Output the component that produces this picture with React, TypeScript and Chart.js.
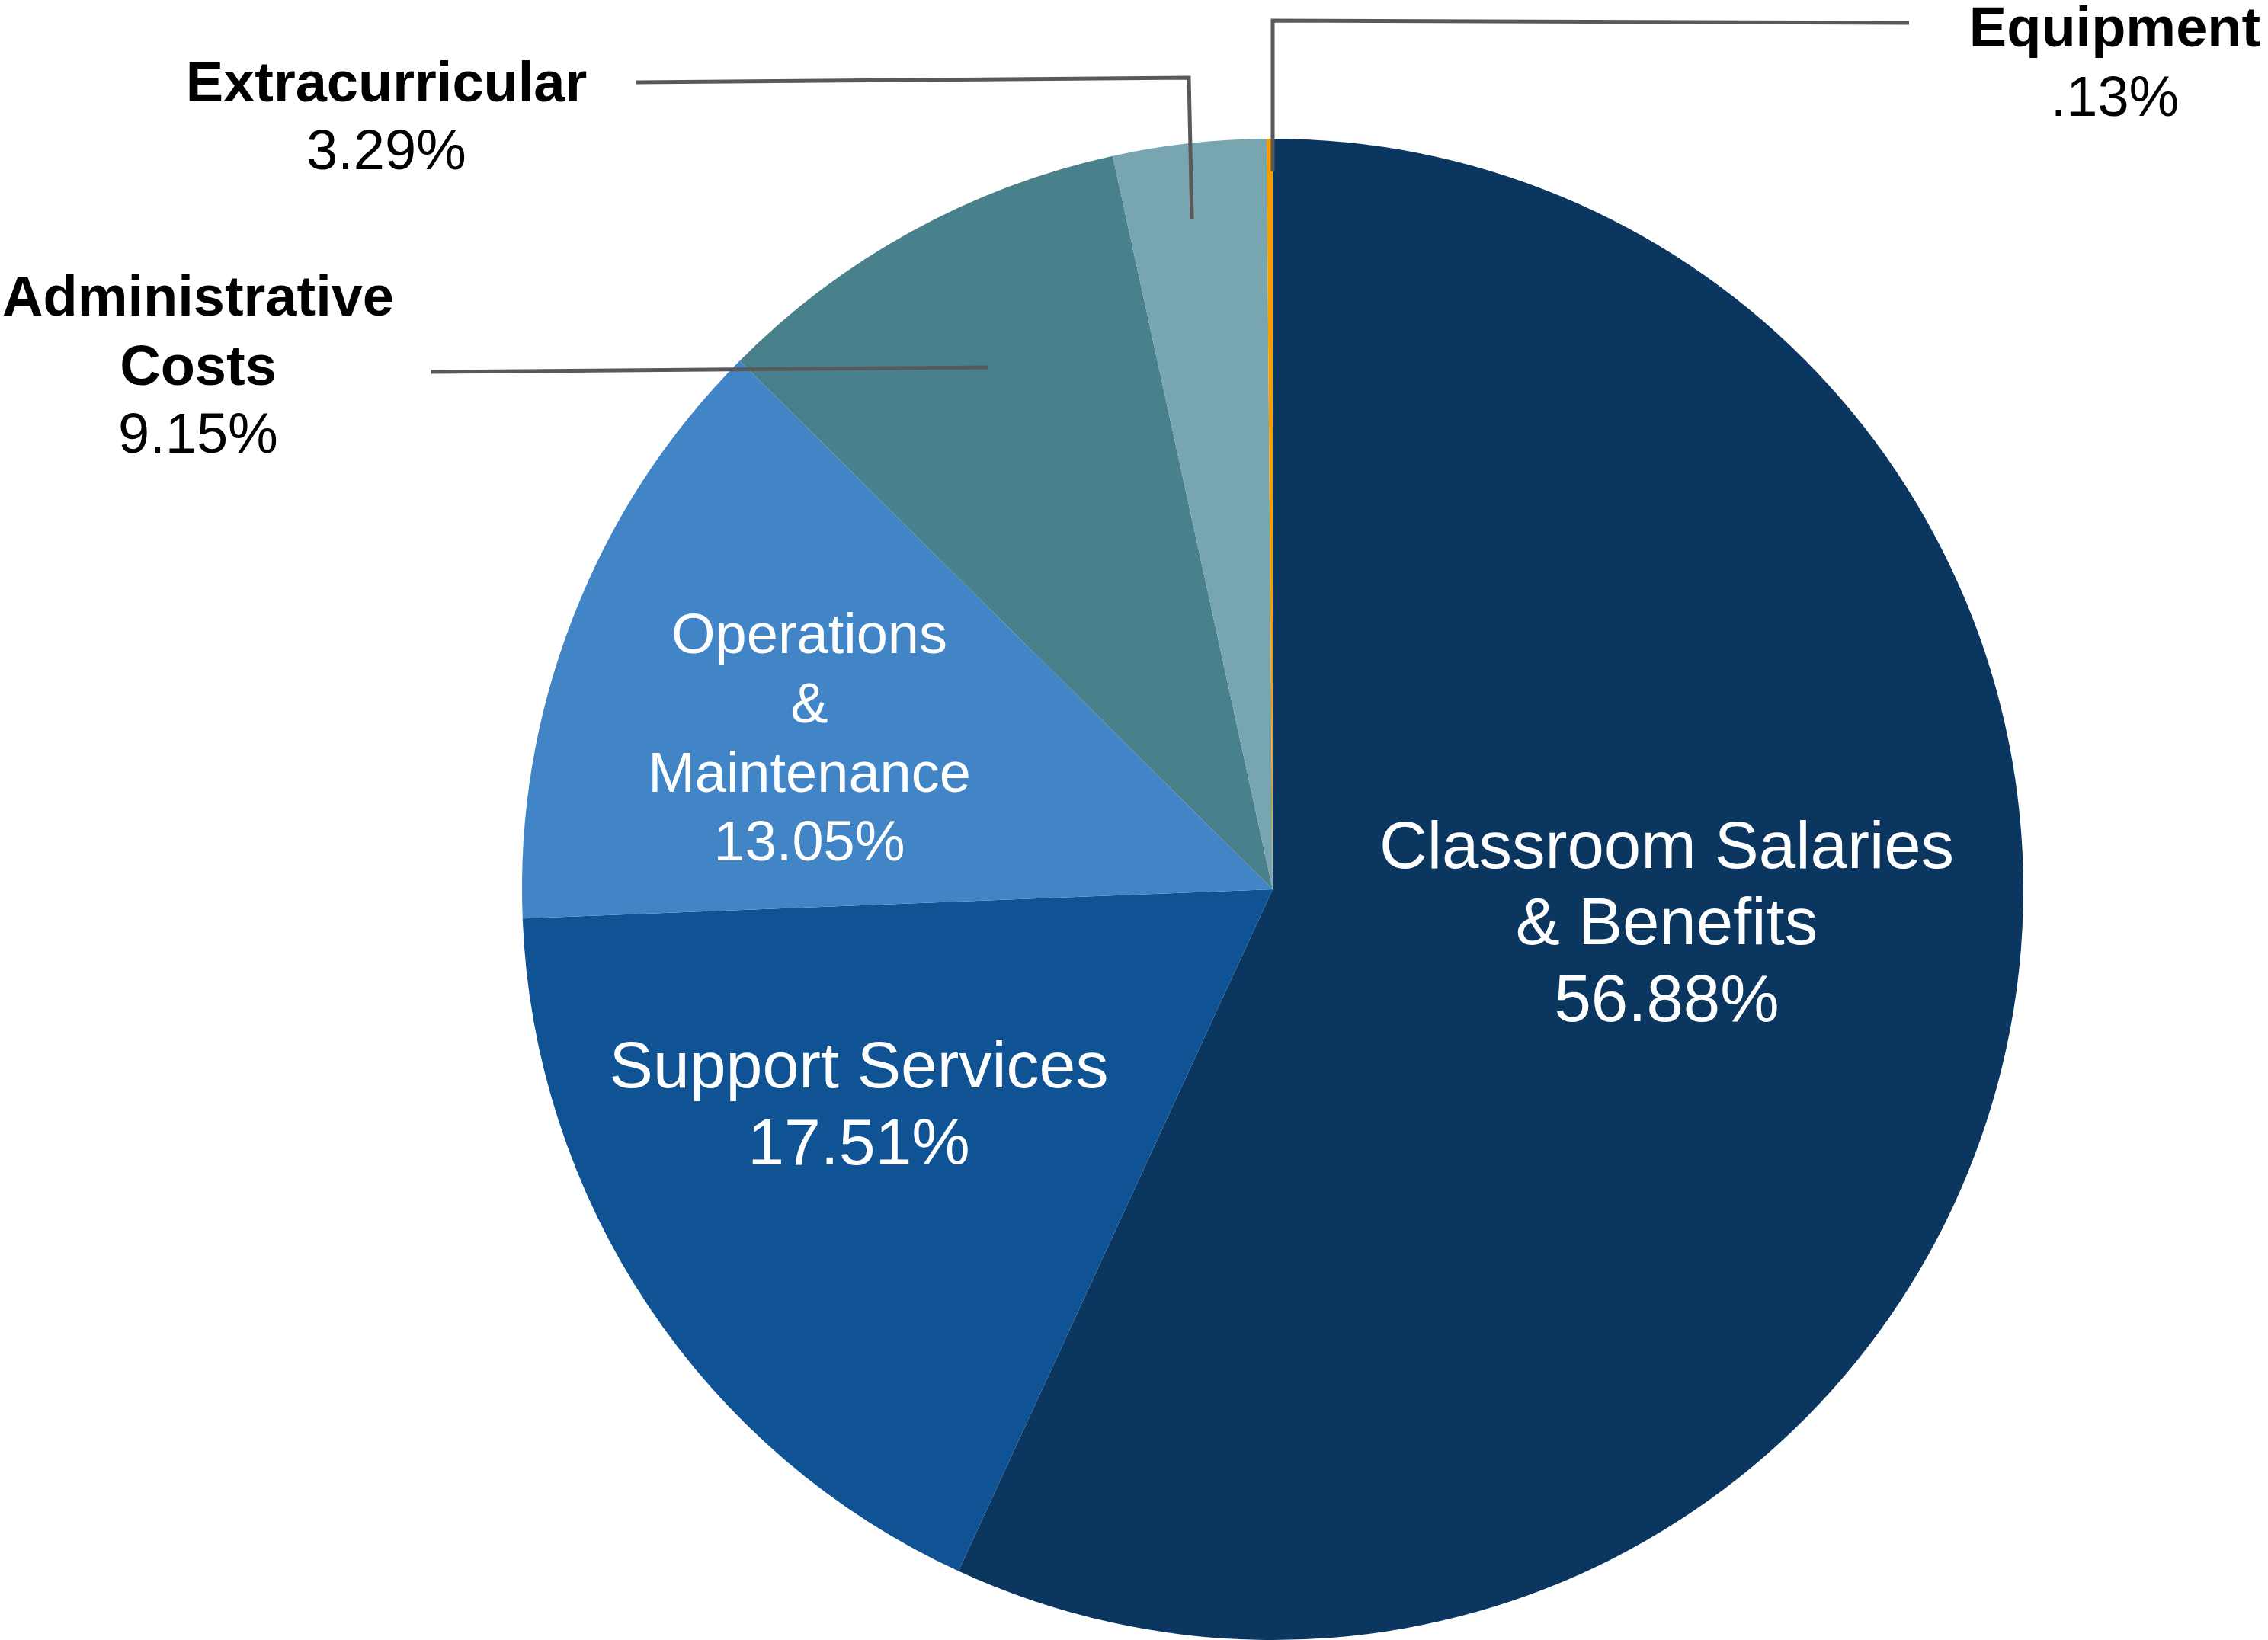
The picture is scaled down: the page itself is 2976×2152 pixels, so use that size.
import React, { useEffect, useRef } from "react";
import { Chart, registerables } from "chart.js";

Chart.register(...registerables);

const categories = [
  "Classroom Salaries & Benefits",
  "Support Services",
  "Operations & Maintenance",
  "Administrative Costs",
  "Extracurricular",
  "Equipment",
];
const values = [56.88, 17.51, 13.05, 9.15, 3.29, 0.13];
const valueLabels = ["56.88%", "17.51%", "13.05%", "9.15%", "3.29%", ".13%"];
const colors = ["#0a3660", "#0f5394", "#4185c7", "#48808c", "#77a5b0", "#f79d00"];

// Label layout (offsets from pie centre in reference px, radius 985)
const REF_R = 985;
type Lbl = {
  lines: string[];
  bold: boolean[];
  dx: number;
  dys: number[];
  size: number;
  color: string;
};
const labelLayout: Lbl[] = [
  { lines: ["Classroom Salaries", "& Benefits", valueLabels[0]], bold: [false, false, false], dx: 517, dys: [-28, 72, 173], size: 87, color: "#ffffff" },
  { lines: ["Support Services", valueLabels[1]], bold: [false, false], dx: -543, dys: [260, 361], size: 86, color: "#ffffff" },
  { lines: ["Operations", "&", "Maintenance", valueLabels[2]], bold: [false, false, false, false], dx: -608, dys: [-310, -219, -128, -38], size: 74, color: "#ffffff" },
  { lines: ["Administrative", "Costs", valueLabels[3]], bold: [true, true, false], dx: -1410, dys: [-753, -662, -573], size: 74, color: "#000000" },
  { lines: ["Extracurricular", valueLabels[4]], bold: [true, false], dx: -1163, dys: [-1034, -945], size: 74, color: "#000000" },
  { lines: ["Equipment", valueLabels[5]], bold: [true, false], dx: 1105, dys: [-1106, -1015], size: 74, color: "#000000" },
];
const leaders: number[][][] = [
  [[835, -1137], [0, -1140], [0, -942]],
  [[-835, -1059], [-110, -1065], [-106, -879]],
  [[-1104, -679], [-374, -685]],
];

const labelPlugin = {
  id: "pieLabels",
  afterDraw(chart: any) {
    const meta = chart.getDatasetMeta(0);
    const arc = meta.data[0] as any;
    if (!arc) return;
    const cx = arc.x, cy = arc.y, R = arc.outerRadius;
    const s = R / REF_R;
    const ctx = chart.ctx as CanvasRenderingContext2D;
    ctx.save();
    ctx.strokeStyle = "#595959";
    ctx.lineWidth = 5 * s;
    ctx.lineJoin = "miter";
    ctx.lineCap = "butt";
    for (const pts of leaders) {
      ctx.beginPath();
      pts.forEach((p, i) => {
        const x = cx + p[0] * s, y = cy + p[1] * s;
        if (i === 0) ctx.moveTo(x, y); else ctx.lineTo(x, y);
      });
      ctx.stroke();
    }
    ctx.textAlign = "center";
    ctx.textBaseline = "alphabetic";
    for (const l of labelLayout) {
      ctx.fillStyle = l.color;
      l.lines.forEach((t, i) => {
        ctx.font = `${l.bold[i] ? "bold " : ""}${Math.round(l.size * s)}px "Liberation Sans", Arial, sans-serif`;
        ctx.fillText(t, cx + l.dx * s, cy + l.dys[i] * s);
      });
    }
    ctx.restore();
  },
};

export default function App() {
  const ref = useRef<HTMLCanvasElement>(null);
  useEffect(() => {
    if (!ref.current) return;
    const chart = new Chart(ref.current, {
      type: "pie",
      data: {
        labels: categories,
        datasets: [
          {
            data: values,
            backgroundColor: colors,
            borderWidth: 0,
          },
        ],
      },
      options: {
        responsive: false,
        animation: false,
        devicePixelRatio: 1,
        layout: { padding: { left: 685, right: 321, top: 182, bottom: 0 } },
        plugins: {
          legend: { display: false },
          tooltip: { enabled: false },
        },
      },
      plugins: [labelPlugin],
    });
    return () => chart.destroy();
  }, []);
  return (
    <div style={{ position: "absolute", left: 0, top: 0, width: 2976, height: 2152, background: "#ffffff" }}>
      <canvas ref={ref} width={2976} height={2152} style={{ display: "block" }} />
    </div>
  );
}
